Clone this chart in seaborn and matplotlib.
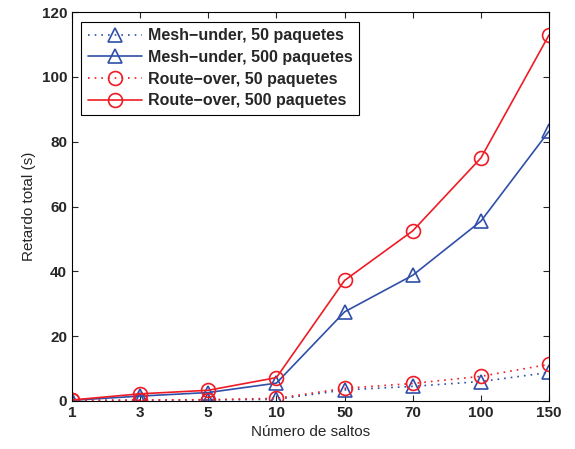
import numpy as np
import pandas as pd
import matplotlib
matplotlib.use("Agg")
import matplotlib.pyplot as plt
import seaborn as sns

# Data
saltos = ["1", "3", "5", "10", "50", "70", "100", "150"]
mesh_50 = [0.1, 0.2, 0.3, 0.5, 3.4, 4.5, 6.0, 8.8]
mesh_500 = [0.2, 1.5, 2.6, 5.5, 27.5, 38.8, 55.5, 83.3]
route_50 = [0.2, 0.3, 0.4, 0.8, 3.9, 5.4, 7.6, 11.3]
route_500 = [0.3, 2.2, 3.3, 7.2, 37.2, 52.5, 75.0, 113.0]

sns.set_style("ticks")
plt.rcParams['font.family'] = ['Liberation Sans', 'DejaVu Sans']

blue = "#2f4fa8"
red = "#ee1c25"
dotted = (0, (1, 3))

pos = np.arange(len(saltos))
series = [
    ("Mesh\u2212under, 50 paquetes", mesh_50, blue, dotted, "^"),
    ("Mesh\u2212under, 500 paquetes", mesh_500, blue, "-", "^"),
    ("Route\u2212over, 50 paquetes", route_50, red, dotted, "o"),
    ("Route\u2212over, 500 paquetes", route_500, red, "-", "o"),
]

fig = plt.figure(figsize=(5.75, 4.49), dpi=100)
ax = fig.add_axes([0.125, 0.107, 0.83, 0.866])

for label, vals, color, ls, mk in series:
    df = pd.DataFrame({"x": pos, "y": vals})
    sns.lineplot(data=df, x="x", y="y", ax=ax, color=color, linestyle=ls,
                 linewidth=1.2, marker=mk, markersize=10, markerfacecolor="none",
                 markeredgecolor=color, markeredgewidth=1.2, label=label)

ax.set_xlim(0, len(saltos) - 1)
ax.set_ylim(0, 120)
ax.set_xticks(pos)
ax.set_xticklabels(saltos, fontweight="bold", fontsize=11)
ax.set_yticks(np.arange(0, 121, 20))
ax.set_yticklabels([str(v) for v in range(0, 121, 20)], fontweight="bold", fontsize=11)
ax.set_xlabel("Número de saltos", fontsize=11)
ax.set_ylabel("Retardo total (s)", fontsize=11)
ax.tick_params(direction="in", length=4, top=True, right=True, width=0.8)
for s in ax.spines.values():
    s.set_linewidth(0.8)
    s.set_color("black")

leg = ax.legend(loc="upper left", fancybox=False, framealpha=1, edgecolor="black",
                prop={"weight": "bold", "size": 11.5}, handlelength=3.4,
                handletextpad=0.35, borderaxespad=0.6, labelspacing=0.42,
                borderpad=0.4)
leg.get_frame().set_linewidth(0.8)

fig.savefig("out.png", dpi=100)
